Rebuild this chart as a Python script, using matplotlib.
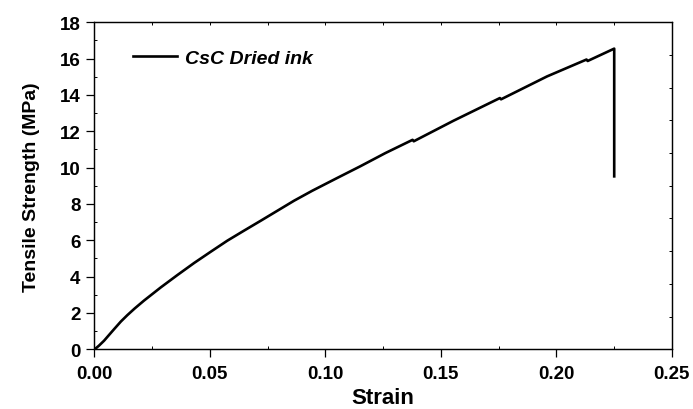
import matplotlib
matplotlib.use("Agg")
import matplotlib.pyplot as plt
import numpy as np
from matplotlib.ticker import MultipleLocator

plt.rcParams['font.family'] = ['Liberation Sans', 'DejaVu Sans']
plt.rcParams['font.weight'] = 'bold'

# Data
strain = [0.0, 0.0006, 0.0020, 0.0042, 0.0059, 0.0085, 0.0115, 0.0143, 0.0175,
          0.0215, 0.0288, 0.0360, 0.0432, 0.0504, 0.0576, 0.0648, 0.0721,
          0.0793, 0.0865, 0.0944, 0.1050, 0.1151, 0.1260, 0.1378, 0.1383,
          0.1555, 0.1756, 0.1761, 0.1960, 0.2131, 0.2136, 0.2251, 0.2251]
stress = [0.0, 0.05, 0.20, 0.47, 0.72, 1.10, 1.53, 1.88, 2.25,
          2.68, 3.41, 4.09, 4.75, 5.37, 5.98, 6.53, 7.08,
          7.63, 8.18, 8.73, 9.42, 10.07, 10.80, 11.53, 11.45,
          12.58, 13.83, 13.76, 15.02, 15.95, 15.87, 16.55, 9.52]
series_label = "CsC Dried ink"
x_label = "Strain"
y_label = "Tensile Strength (MPa)"
xticks = [0.00, 0.05, 0.10, 0.15, 0.20, 0.25]
xtick_labels = ["0.00", "0.05", "0.10", "0.15", "0.20", "0.25"]
yticks = [0, 2, 4, 6, 8, 10, 12, 14, 16, 18]

fig = plt.figure(figsize=(6.93, 4.10), dpi=100)
ax = fig.add_axes([0.1361, 0.1456, 0.9693 - 0.1361, 0.9432 - 0.1456])

ax.plot(strain, stress, color='black', lw=1.9, label=series_label,
        solid_joinstyle='round')

ax.set_xlim(0, 0.25)
ax.set_ylim(0, 18)
ax.set_xticks(xticks)
ax.set_xticklabels(xtick_labels)
ax.set_yticks(yticks)
ax.xaxis.set_minor_locator(MultipleLocator(0.025))
ax.yaxis.set_minor_locator(MultipleLocator(1))

for s in ax.spines.values():
    s.set_linewidth(0.9)

ax.tick_params(which='major', direction='out', length=6, width=0.9,
               labelsize=13.5, pad=4)
ax.tick_params(axis='x', which='major', pad=5)
ax.tick_params(which='minor', direction='in', length=2.5, width=0.7)
for lab in ax.get_xticklabels() + ax.get_yticklabels():
    lab.set_fontweight('bold')

ax.set_xlabel(x_label, fontsize=16, fontweight='bold', labelpad=4)
ax.set_ylabel(y_label, fontsize=14, fontweight='bold', labelpad=14)

# right spine ticks (inward, unlabeled)
ax2 = ax.twinx()
ax2.set_ylim(0, 18)
ax2.set_yticks(np.arange(1.8, 17.0, 1.8))
ax2.tick_params(direction='in', length=2.5, width=0.7, labelright=False)
# top spine ticks (inward, unlabeled)
ax3 = ax.twiny()
ax3.set_xlim(0, 0.25)
ax3.set_xticks(np.arange(0.025, 0.25, 0.025))
ax3.tick_params(direction='in', length=2.5, width=0.7, labeltop=False)

leg = ax.legend(loc='upper left', bbox_to_anchor=(0.036, 0.97), frameon=False,
                prop={'weight': 'bold', 'style': 'italic', 'size': 14},
                handlelength=2.3, handletextpad=0.4)

fig.savefig("out.png", dpi=100)
